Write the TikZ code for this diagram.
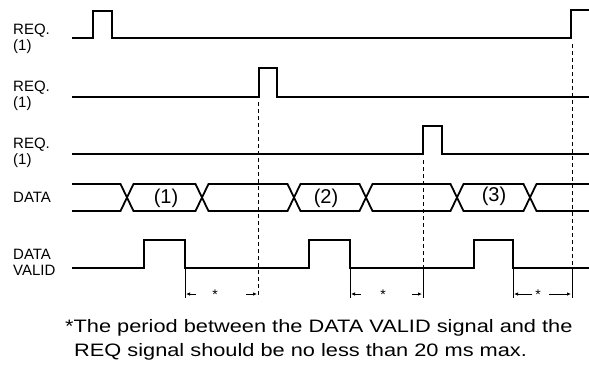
\documentclass[tikz,border=0pt]{standalone}
\usepackage{fontspec}
\usepackage{graphicx}
\setmainfont{Liberation Sans}
\usetikzlibrary{arrows.meta}
\begin{document}
\begin{tikzpicture}[x=1pt,y=-1pt,
  sig/.style={line width=1.8pt, line join=miter},
  thicksig/.style={line width=2.4pt, line join=miter},
  lbl/.style={anchor=base west, inner sep=0pt, font=\fontsize{15}{16}\selectfont},
  guide/.style={line width=0.8pt, dash pattern=on 4pt off 3pt},
  ext/.style={line width=0.9pt},
  dim/.style={line width=1pt, -{Latex[length=4pt,width=3.5pt]}},
  star/.style={inner sep=0pt, font=\fontsize{14}{14}\selectfont},
  note/.style={anchor=base west, inner sep=0pt, font=\fontsize{18}{18}\selectfont},
  dlabel/.style={inner sep=0pt, font=\fontsize{20}{20}\selectfont},
]
\useasboundingbox (0,0) rectangle (589,365);
% labels
\node[lbl] (l1a) at (13,34) {REQ.};
\node[lbl] (l1b) at (13,50) {(1)};
\node[lbl] (l2a) at (13,91.5) {REQ.};
\node[lbl] (l2b) at (13,107.5) {(1)};
\node[lbl] (l3a) at (13,148.5) {REQ.};
\node[lbl] (l3b) at (13,164.5) {(1)};
\node[lbl] (l4) at (13,202.5) {DATA};
\node[lbl] (l5a) at (13,259) {DATA};
\node[lbl] (l5b) at (13,275) {VALID};
% REQ rows
\draw[sig] (72,38) -- (93,38) -- (93,11) -- (112,11) -- (112,38) -- (571,38) -- (571,10) -- (589,10);
\draw[sig] (72,97) -- (259,97) -- (259,68) -- (277,68) -- (277,97) -- (589,97);
\draw[thicksig] (72,154) -- (423,154) -- (423,126) -- (442,126) -- (442,154) -- (589,154);
% DATA row
\def\h{6.5}
\draw[sig] (72,184) -- (127-\h,184) -- (127+\h,211) -- (202-\h,211) -- (202+\h,184) -- (294-\h,184) -- (294+\h,211) -- (366-\h,211) -- (366+\h,184) -- (457-\h,184) -- (457+\h,211) -- (530-\h,211) -- (530+\h,184) -- (589,184);
\draw[sig] (72,211) -- (127-\h,211) -- (127+\h,184) -- (202-\h,184) -- (202+\h,211) -- (294-\h,211) -- (294+\h,184) -- (366-\h,184) -- (366+\h,211) -- (457-\h,211) -- (457+\h,184) -- (530-\h,184) -- (530+\h,211) -- (589,211);
\node[dlabel] (d1) at (166,198) {(1)};
\node[dlabel] (d2) at (326,198) {(2)};
\node[dlabel] (d3) at (494,196) {(3)};
% DATA VALID row
\draw[sig] (72,268) -- (144,268) -- (144,240) -- (185,240) -- (185,268) -- (309,268) -- (309,240) -- (350,240) -- (350,268) -- (474,268) -- (474,240) -- (513,240) -- (513,268) -- (589,268);
% guide lines
\coordinate (g1t) at (258,102);
\coordinate (g1b) at (258,298);
\coordinate (g2t) at (423,160);
\coordinate (g2b) at (423,298);
\coordinate (g3t) at (572,44);
\coordinate (g3b) at (572,298);
\draw[guide] (g1t) -- (g1b);
\draw[guide] (g2t) -- (g2b);
\draw[guide] (g3t) -- (g3b);
% extension lines
\coordinate (e1) at (185,298);
\coordinate (e2) at (350,298);
\coordinate (e3) at (513,298);
\draw[ext] (185,268) -- (e1);
\draw[ext] (350,268) -- (e2);
\draw[ext] (513,268) -- (e3);
\draw[ext] (423,268) -- (g2b);
\draw[ext] (572,268) -- (g3b);
% dimensions
\node[star] (s1) at (215,295) {*};
\node[star] (s2) at (383,295) {*};
\node[star] (s3) at (538,295) {*};
\draw[dim] (196,294) -- (186,294);
\draw[dim] (246,294) -- (257,294);
\draw[dim] (361,294) -- (351,294);
\draw[dim] (412,294) -- (422,294);
\draw[dim] (532,294) -- (514,294);
\draw[dim] (549,294) -- (571,294);
% footnote
\node[note] (n1) at (65,332) {\scalebox{1.21}[1]{*The period between the DATA VALID signal and the}};
\node[note] (n2) at (74,356) {\scalebox{1.21}[1]{REQ signal should be no less than 20 ms max.}};
\end{tikzpicture}
\end{document}
